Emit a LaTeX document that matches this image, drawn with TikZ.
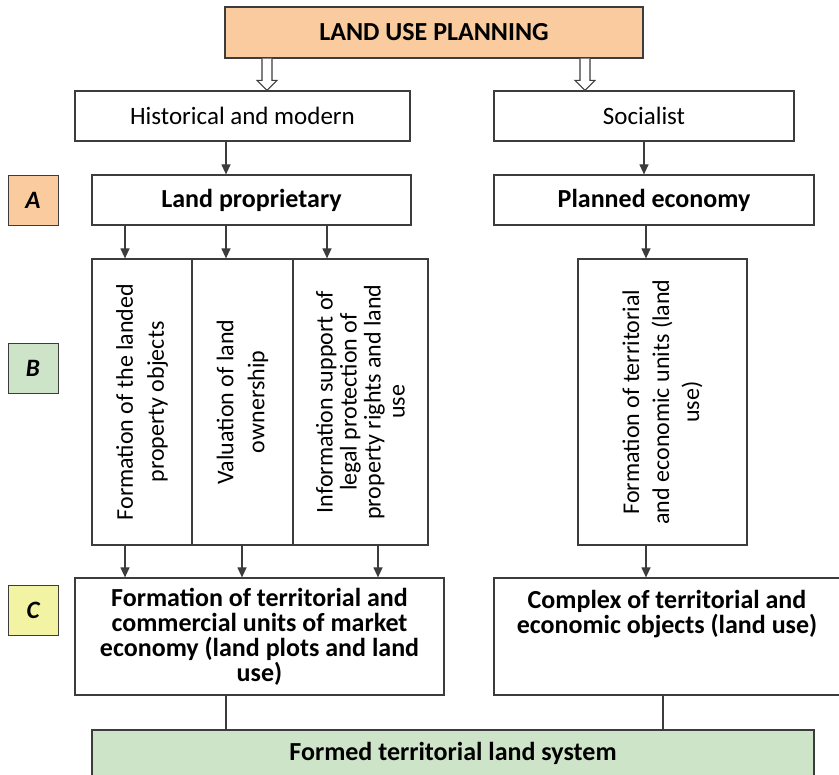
\documentclass[tikz,border=0pt]{standalone}
\usepackage{fontspec}
\setmainfont{Carlito}
\usetikzlibrary{arrows,arrows.meta}
\usetikzlibrary{calc}
\definecolor{rahmen}{RGB}{60,60,60}
\definecolor{peach}{RGB}{249,203,158}
\definecolor{mint}{RGB}{205,228,200}
\definecolor{lemon}{RGB}{243,243,164}

\tikzset{
  box/.style={draw=rahmen, line width=1.2pt, fill=white, inner sep=2pt, align=center, font=\fontsize{25}{25}\selectfont},
  hbox/.style={box, font=\bfseries\fontsize{26}{25}\selectfont},
  vbox/.style={box, rotate=90, font=\fontsize{24}{31}\selectfont},
  tag/.style={box, line width=0.8pt, minimum width=50pt, minimum height=50pt, font=\bfseries\itshape\fontsize{25}{25}\selectfont},
  arr/.style={draw=rahmen, line width=1.2pt, -{Triangle[length=10pt,width=9pt]}},
  con/.style={draw=rahmen, line width=1.2pt},
}

% hollow arrow: x position, upper node, lower node
\newcommand{\hollowarrow}[3]{%
  \draw[con, fill=white] ($(#2.south -| #1,0)+(-5,0)$) -- ($(#3.north -| #1,0)+(-5,-10)$) -- ++(-5,0)
    -- (#3.north -| #1,0) -- ++(10,-10) -- ++(-5,0) -- ($(#2.south -| #1,0)+(5,0)$);
}

\begin{document}
\begin{tikzpicture}[x=1pt, y=-1pt]

    \useasboundingbox (0,0) rectangle (839,775);

    \node[hbox, fill=peach, minimum width=418pt, minimum height=51pt] (plan) at (434,32.5) {LAND USE PLANNING};
    \node[box, minimum width=335pt, minimum height=50pt] (hist) at (242.5,116) {Historical and modern};
    \node[box, minimum width=300pt, minimum height=50pt] (soc) at (644,116) {Socialist};

    \node[tag, fill=peach] (a) at (33,200) {A};
    \node[hbox, minimum width=319pt, minimum height=50pt] (prop) at (251.5,200) {Land proprietary};
    \node[hbox, minimum width=320pt, minimum height=50pt] (econ) at (654,200) {Planned economy};

    \node[tag, fill=mint] (b) at (33,368) {B};
    \node[vbox, minimum width=286pt, minimum height=100pt] (v1) at (142,402) {Formation of the landed\\property objects};
    \node[vbox, minimum width=286pt, minimum height=101pt] (v2) at (242.5,402) {Valuation of land\\ownership};
    \node[vbox, minimum width=286pt, minimum height=135pt, font=\fontsize{24}{24}\selectfont] (v3) at (360.5,402) {Information support of\\legal protection of\\property rights and land\\use};
    \node[vbox, minimum width=286pt, minimum height=169pt, font=\fontsize{24}{30}\selectfont] (v4) at (662.5,402) {Formation of territorial\\and economic units (land\\use)};

    \node[tag, fill=lemon] (c) at (33,610) {C};
    \node[hbox, minimum width=369pt, minimum height=117pt] (mkt) at (259.5,636.5) {Formation of territorial and\\commercial units of market\\economy (land plots and land\\use)};
    \node[hbox, minimum width=346pt, minimum height=117pt] (cplx) at (667,636.5) {Complex of territorial and\\economic objects (land use)\\\mbox{}\\\mbox{}};

    \node[hbox, fill=mint, minimum width=722pt, minimum height=47pt] (sys) at (453,753.5) {Formed territorial land system};

    \hollowarrow{267}{plan}{hist}
    \hollowarrow{585}{plan}{soc}

    \draw[arr] (hist.south -| 226,0) -- (prop.north -| 226,0);
    \draw[arr] (soc.south) -- (soc.south |- econ.north);
    \foreach \x in {125,226,327}
        \draw[arr] (prop.south -| \x,0) -- (v1.east -| \x,0);
    \draw[arr] (econ.south -| 646,0) -- (v4.east -| 646,0);

    \draw[arr] (v1.west -| 125,0) -- (mkt.north -| 125,0);
    \draw[arr] (v2.west -| 242,0) -- (mkt.north -| 242,0);
    \draw[arr] (v3.west -| 378,0) -- (mkt.north -| 378,0);
    \draw[arr] (v4.west -| 646,0) -- (cplx.north -| 646,0);

    \draw[con] (mkt.south -| 226,0) -- (sys.north -| 226,0);
    \draw[con] (cplx.south -| 663,0) -- (sys.north -| 663,0);

\end{tikzpicture}
\end{document}
